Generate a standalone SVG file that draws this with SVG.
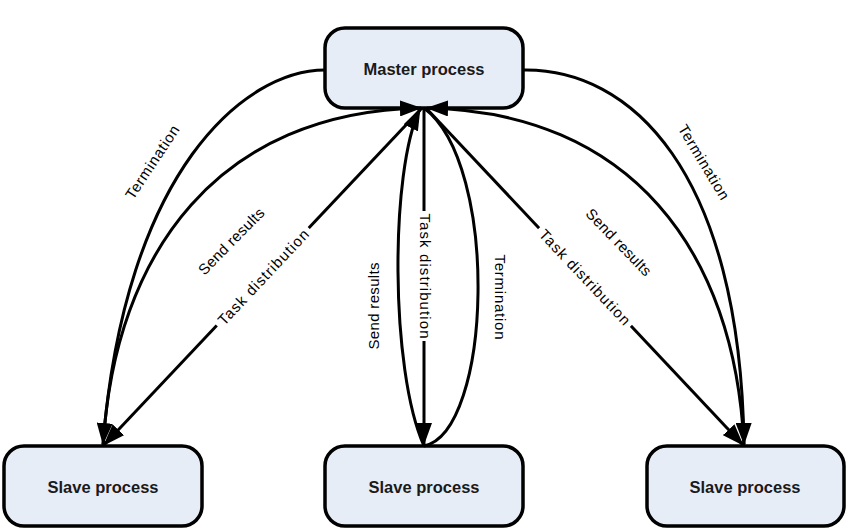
<svg xmlns="http://www.w3.org/2000/svg" width="850" height="530" viewBox="0 0 850 530">
  <style>
    .node rect { fill: #e7edf7; stroke: #000; stroke-width: 3.5; }
    .node text { font-family: "Liberation Sans", Arial, sans-serif; font-weight: bold; font-size: 16.5px; fill: #1a1a1a; text-anchor: middle; }
    .conn { fill: none; stroke: #000; stroke-width: 3; }
    .lbl { font-family: "Liberation Sans", Arial, sans-serif; font-size: 15px; fill: #000; text-anchor: middle; dominant-baseline: central; }
    .bg { fill: #fff; stroke: none; }
  </style>
  <defs>
    <marker id="arrow" viewBox="0 0 22 16" refX="21" refY="8" markerWidth="22" markerHeight="16" markerUnits="userSpaceOnUse" orient="auto">
      <path d="M0,0 L22,8 L0,16 z" fill="#000"/>
    </marker>
  </defs>
  <rect width="850" height="530" fill="#fff"/>

  <g id="master" class="node">
    <rect x="325" y="28" width="198" height="80" rx="20"/>
    <text x="424" y="75">Master process</text>
  </g>
  <g id="slave-left" class="node">
    <rect x="4" y="446" width="198" height="80" rx="20"/>
    <text x="103" y="493">Slave process</text>
  </g>
  <g id="slave-center" class="node">
    <rect x="325" y="446" width="198" height="80" rx="20"/>
    <text x="424" y="493">Slave process</text>
  </g>
  <g id="slave-right" class="node">
    <rect x="647" y="446" width="197" height="80" rx="20"/>
    <text x="745" y="493">Slave process</text>
  </g>

  <g id="connectors">
    <!-- left -->
    <path class="conn" d="M325,70 C245,70 125,170 103,444" marker-end="url(#arrow)"/>
    <path class="conn" d="M103,446 C115,250 220,112 421,108" marker-end="url(#arrow)"/>
    <path class="conn" d="M422,108 L104,445" marker-end="url(#arrow)"/>
    <!-- center -->
    <path class="conn" d="M424,108 L424,444" marker-end="url(#arrow)"/>
    <path class="conn" d="M424,446 C390,370 390,170 420,109" marker-end="url(#arrow)"/>
    <path class="conn" d="M424,108 C500,165 492,432 424,446"/>
    <!-- right -->
    <path class="conn" d="M523,70 C630,68 740,170 744,444" marker-end="url(#arrow)"/>
    <path class="conn" d="M744,446 C735,250 630,112 427,108" marker-end="url(#arrow)"/>
    <path class="conn" d="M426,108 L743,445" marker-end="url(#arrow)"/>

    <!-- labels -->
    <g transform="translate(152,162) rotate(-56.5)"><text class="lbl" textLength="85" lengthAdjust="spacing">Termination</text></g>
    <g transform="translate(231,241) rotate(-45.5)"><text class="lbl" textLength="87" lengthAdjust="spacing">Send results</text></g>
    <g transform="translate(263,277) rotate(-46.7)"><rect class="bg" x="-67" y="-8" width="134" height="16"/><text class="lbl" textLength="125" lengthAdjust="spacing">Task distribution</text></g>

    <g transform="translate(425,276) rotate(90)"><rect class="bg" x="-65" y="-8" width="130" height="16"/><text class="lbl" textLength="125" lengthAdjust="spacing">Task distribution</text></g>
    <g transform="translate(373,306) rotate(-90)"><text class="lbl" textLength="87" lengthAdjust="spacing">Send results</text></g>
    <g transform="translate(500,297) rotate(90)"><text class="lbl" textLength="85" lengthAdjust="spacing">Termination</text></g>

    <g transform="translate(704,162) rotate(59)"><text class="lbl" textLength="85" lengthAdjust="spacing">Termination</text></g>
    <g transform="translate(619,242) rotate(46)"><text class="lbl" textLength="87" lengthAdjust="spacing">Send results</text></g>
    <g transform="translate(585,277) rotate(46.6)"><rect class="bg" x="-67" y="-8" width="134" height="16"/><text class="lbl" textLength="125" lengthAdjust="spacing">Task distribution</text></g>
  </g>
</svg>
